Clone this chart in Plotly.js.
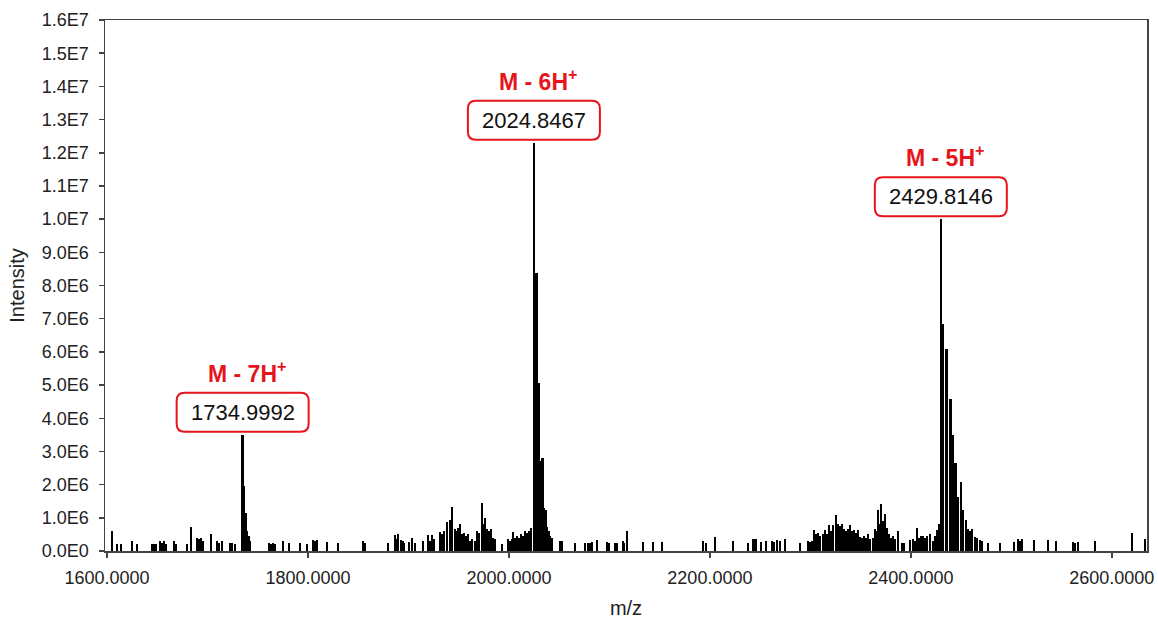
<!DOCTYPE html>
<html>
<head>
<meta charset="utf-8">
<script src="https://cdn.plot.ly/plotly-3.0.1.min.js"></script>
<style>
  html, body { margin: 0; padding: 0; background: #ffffff; }
  #chart { width: 1158px; height: 619px; }
</style>
</head>
<body>
<div id="chart"></div>
<script>
// ---- Data ----
const mzValues = [
  1605.0, 1610.0, 1613.9, 1624.9, 1629.9, 1644.8, 1646.8, 1648.8, 1652.7, 1654.7,
  1656.7, 1658.7, 1666.7, 1668.7, 1679.6, 1683.6, 1689.6, 1691.5, 1693.5, 1695.5,
  1703.5, 1709.5, 1711.4, 1714.4, 1722.4, 1724.4, 1727.4, 1734.9992, 1736.3, 1737.8,
  1739.3, 1740.8, 1742.3, 1761.2, 1763.2, 1765.2, 1767.2, 1775.1, 1781.1, 1792.0,
  1799.0, 1805.0, 1807.0, 1809.0, 1818.9, 1829.9, 1854.7, 1856.7, 1879.6, 1886.6,
  1888.6, 1889.6, 1892.5, 1894.5, 1895.5, 1900.5, 1903.5, 1906.5, 1914.4, 1919.4,
  1921.4, 1923.4, 1925.4, 1931.3, 1933.3, 1935.3, 1938.3, 1941.3, 1943.3, 1946.3,
  1948.3, 1949.3, 1951.2, 1953.2, 1955.2, 1957.2, 1959.2, 1961.2, 1963.2, 1966.2,
  1968.2, 1970.1, 1973.1, 1975.1, 1976.1, 1978.1, 1980.1, 1982.1, 1984.1, 1986.1,
  1993.0, 1999.0, 2001.0, 2003.0, 2004.0, 2006.0, 2008.0, 2009.9, 2011.9, 2013.9,
  2015.9, 2017.9, 2019.9, 2020.9, 2021.9, 2024.8467, 2027.4, 2029.9, 2031.8, 2033.3,
  2034.8, 2036.3, 2037.8, 2039.3, 2040.8, 2042.8, 2050.7, 2052.7, 2065.7, 2075.6,
  2078.6, 2080.6, 2082.6, 2087.6, 2097.5, 2099.5, 2105.5, 2107.5, 2113.4, 2114.4,
  2117.4, 2133.3, 2143.3, 2152.2, 2193.0, 2196.0, 2205.0, 2222.9, 2237.8, 2242.8,
  2244.8, 2245.8, 2250.7, 2255.7, 2261.7, 2263.7, 2266.7, 2269.7, 2274.6, 2289.6,
  2297.5, 2299.5, 2301.5, 2303.5, 2305.5, 2307.5, 2309.5, 2312.4, 2314.4, 2316.4,
  2318.4, 2320.4, 2322.4, 2325.4, 2327.4, 2329.4, 2331.3, 2333.3, 2335.3, 2337.3,
  2339.3, 2341.3, 2343.3, 2345.3, 2347.3, 2349.3, 2351.2, 2353.2, 2355.2, 2357.2,
  2359.2, 2362.2, 2364.2, 2366.2, 2367.2, 2369.2, 2370.1, 2372.1, 2374.1, 2376.1,
  2378.1, 2380.1, 2382.1, 2384.1, 2387.1, 2391.0, 2393.0, 2399.0, 2402.0, 2404.0,
  2406.0, 2408.0, 2410.0, 2411.9, 2413.9, 2415.9, 2418.9, 2421.9, 2423.9, 2425.9,
  2427.9, 2429.8146, 2432.1, 2435.5, 2439.5, 2441.8, 2444.5, 2446.8, 2449.8, 2451.7,
  2454.7, 2456.7, 2458.7, 2460.7, 2463.7, 2465.7, 2468.7, 2470.6, 2476.6, 2488.6,
  2502.5, 2506.5, 2508.5, 2510.4, 2522.4, 2536.3, 2544.3, 2561.2, 2563.2, 2566.2,
  2583.1, 2619.9, 2632.8
];
const intensityE6 = [
  0.60, 0.20, 0.20, 0.30, 0.20, 0.20, 0.20, 0.20, 0.30, 0.25,
  0.30, 0.20, 0.30, 0.20, 0.20, 0.72, 0.40, 0.35, 0.40, 0.30,
  0.50, 0.30, 0.25, 0.30, 0.25, 0.25, 0.20, 3.50, 1.95, 1.15,
  0.60, 0.45, 0.30, 0.25, 0.20, 0.25, 0.20, 0.30, 0.25, 0.25,
  0.20, 0.33, 0.30, 0.33, 0.27, 0.25, 0.30, 0.25, 0.24, 0.47,
  0.35, 0.50, 0.32, 0.30, 0.25, 0.27, 0.40, 0.25, 0.30, 0.47,
  0.30, 0.47, 0.35, 0.57, 0.50, 0.60, 0.87, 0.94, 1.33, 0.67,
  0.60, 0.70, 0.80, 0.50, 0.55, 0.45, 0.50, 0.30, 0.35, 0.30,
  0.60, 0.55, 1.45, 0.80, 1.00, 0.67, 0.60, 0.67, 0.40, 0.35,
  0.20, 0.37, 0.30, 0.37, 0.57, 0.40, 0.45, 0.40, 0.50, 0.45,
  0.60, 0.55, 0.60, 0.50, 0.70, 12.30, 8.37, 5.06, 2.70, 2.80,
  1.30, 1.25, 0.72, 0.60, 0.45, 0.40, 0.30, 0.30, 0.24, 0.25,
  0.25, 0.25, 0.27, 0.33, 0.27, 0.25, 0.25, 0.24, 0.30, 0.25,
  0.60, 0.27, 0.27, 0.27, 0.30, 0.25, 0.42, 0.30, 0.24, 0.37,
  0.35, 0.36, 0.27, 0.30, 0.30, 0.28, 0.33, 0.30, 0.37, 0.24,
  0.30, 0.28, 0.30, 0.62, 0.50, 0.55, 0.45, 0.50, 0.64, 0.50,
  0.78, 0.60, 0.78, 1.07, 0.80, 0.75, 0.80, 0.67, 0.60, 0.67,
  0.77, 0.60, 0.62, 0.55, 0.62, 0.42, 0.40, 0.45, 0.40, 0.50,
  0.35, 0.40, 0.67, 0.60, 1.25, 0.80, 1.43, 0.90, 1.10, 0.70,
  0.50, 0.40, 0.45, 0.35, 0.60, 0.25, 0.25, 0.32, 0.37, 0.30,
  0.70, 0.40, 0.45, 0.45, 0.40, 0.45, 0.50, 0.30, 0.45, 0.64,
  0.80, 10.00, 6.84, 6.08, 4.58, 3.50, 2.65, 1.63, 2.08, 1.24,
  0.93, 0.65, 0.60, 0.67, 0.42, 0.40, 0.33, 0.30, 0.25, 0.25,
  0.27, 0.35, 0.30, 0.35, 0.33, 0.32, 0.30, 0.27, 0.25, 0.27,
  0.30, 0.55, 0.35
];

const peakMz = [1734.9992, 2024.8467, 2429.8146];
const peakIntensityE6 = [3.50, 12.30, 10.00];
const peakLabels = ['1734.9992', '2024.8467', '2429.8146'];
const peakIons = ['M - 7H<sup>+</sup>', 'M - 6H<sup>+</sup>', 'M - 5H<sup>+</sup>'];

const xTickValues = [1600, 1800, 2000, 2200, 2400, 2600];
const yTickValuesE6 = [0,1,2,3,4,5,6,7,8,9,10,11,12,13,14,15,16];
const yTickLabels = ['0.0E0','1.0E6','2.0E6','3.0E6','4.0E6','5.0E6','6.0E6','7.0E6',
  '8.0E6','9.0E6','1.0E7','1.1E7','1.2E7','1.3E7','1.4E7','1.5E7','1.6E7'];

// ---- Build chart ----
const E6 = 1e6;
const RED = '#e8141b';
const FONT = 'Liberation Sans, Arial, sans-serif';

const trace = {
  type: 'bar',
  x: mzValues,
  y: intensityE6.map(v => v * E6),
  width: mzValues.map(() => 2.4),
  marker: { color: '#000000', line: { width: 0 } },
  hoverinfo: 'x+y',
  showlegend: false
};

// Rounded label boxes (pixel-sized, anchored on each peak)
const BW = 132, BH = 39, BR = 8, GAP = 3;
function roundedBox() {
  const l = -BW / 2, r = BW / 2, b = GAP, t = GAP + BH;
  return `M ${l + BR} ${b} L ${r - BR} ${b} Q ${r} ${b} ${r} ${b + BR} ` +
         `L ${r} ${t - BR} Q ${r} ${t} ${r - BR} ${t} L ${l + BR} ${t} ` +
         `Q ${l} ${t} ${l} ${t - BR} L ${l} ${b + BR} Q ${l} ${b} ${l + BR} ${b} Z`;
}

const shapes = peakMz.map((mz, i) => ({
  type: 'path',
  xref: 'x', yref: 'y',
  xsizemode: 'pixel', ysizemode: 'pixel',
  xanchor: mz, yanchor: peakIntensityE6[i] * E6,
  path: roundedBox(),
  fillcolor: '#ffffff',
  line: { color: RED, width: 2 },
  layer: 'above'
}));

const annotations = [];
peakMz.forEach((mz, i) => {
  annotations.push({
    x: mz, y: peakIntensityE6[i] * E6, xref: 'x', yref: 'y',
    text: peakLabels[i], showarrow: false,
    xanchor: 'center', yanchor: 'middle',
    yshift: GAP + BH / 2,
    font: { family: FONT, size: 22, color: '#111111' }
  });
  annotations.push({
    x: mz, y: peakIntensityE6[i] * E6, xref: 'x', yref: 'y',
    text: peakIons[i], showarrow: false,
    xanchor: 'center', yanchor: 'middle',
    yshift: GAP + BH + 21, xshift: 4,
    font: { family: FONT, size: 23, color: RED, weight: 'bold' }
  });
});

const layout = {
  width: 1158, height: 619,
  margin: { l: 105, r: 11, t: 20, b: 68 },
  paper_bgcolor: '#ffffff',
  plot_bgcolor: '#ffffff',
  bargap: 0,
  font: { family: FONT, color: '#222222' },
  xaxis: {
    range: [1598, 2635],
    tickvals: xTickValues,
    tickformat: '.4f',
    ticks: 'outside', ticklen: 5, tickwidth: 1.5, tickcolor: '#444444',
    ticklabelstandoff: 5,
    showline: true, linecolor: '#444444', linewidth: 1.5, mirror: true,
    showgrid: false, zeroline: false,
    tickfont: { family: FONT, size: 18, color: '#222222' },
    title: { text: 'm/z', font: { family: FONT, size: 20, color: '#222222' }, standoff: 14 }
  },
  yaxis: {
    range: [0, 16 * E6],
    tickvals: yTickValuesE6.map(v => v * E6),
    ticktext: yTickLabels,
    ticks: 'outside', ticklen: 5, tickwidth: 1.5, tickcolor: '#444444',
    ticklabelstandoff: 6,
    showline: true, linecolor: '#444444', linewidth: 1.5, mirror: true,
    showgrid: false, zeroline: false,
    tickfont: { family: FONT, size: 18, color: '#222222' },
    title: { text: 'Intensity', font: { family: FONT, size: 20, color: '#222222' }, standoff: 12 }
  },
  shapes: shapes,
  annotations: annotations
};

Plotly.newPlot('chart', [trace], layout, { displayModeBar: false, staticPlot: true });
</script>
</body>
</html>
